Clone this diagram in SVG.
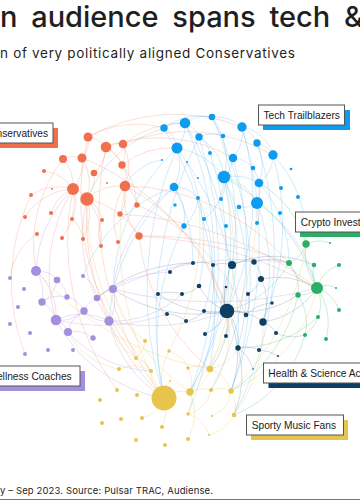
<svg xmlns="http://www.w3.org/2000/svg" width="360" height="500" viewBox="0 0 360 500">
<style>
.t{font-family:Inter,"Liberation Sans",sans-serif;fill:#1f1f1f}
.lb{font-family:"Liberation Sans",Arial,sans-serif;font-size:10.2px;fill:#1a1a1a}
.box{fill:#fff;stroke:#555;stroke-width:1}
#edges path{fill:none;stroke-width:0.7}
.eo{stroke:#F39A80;stroke-opacity:.45}
.eb{stroke:#5DB8F2;stroke-opacity:.4}
.en{stroke:#4D6E89;stroke-opacity:.35}
.eg{stroke:#5CC28A;stroke-opacity:.45}
.ep{stroke:#B9A8E8;stroke-opacity:.5}
.ey{stroke:#EBD27A;stroke-opacity:.5}
.o{fill:#F0704D}.b{fill:#0E9CF0}.n{fill:#0D3F63}.g{fill:#2BAE66}.p{fill:#A38EDF}.y{fill:#E7C54C}
</style>
<rect width="360" height="500" fill="#fff"/>
<text class="t" x="0" y="27" font-size="29" font-weight="500" word-spacing="6">n audience spans tech &amp;</text>
<text class="t" x="0" y="57.5" font-size="13.5" textLength="295" lengthAdjust="spacing" fill="#2a2a2a">n of very politically aligned Conservatives</text>
<g id="edges">
<g class="eo">
<path d="M88 137A25 25 0 0 1 106 147"/><path d="M88 137A25 25 0 0 1 82 158"/><path d="M106 147A20 20 0 0 1 123 144"/><path d="M106 147A30 30 0 0 1 122 165"/><path d="M106 147A35 35 0 0 1 94 173"/><path d="M82 158A40 40 0 0 1 73 189"/><path d="M63 159A40 40 0 0 1 73 189"/><path d="M82 158A50 50 0 0 1 87 199"/><path d="M73 189A20 20 0 0 1 87 199"/><path d="M87 199A50 50 0 0 1 125 186"/><path d="M122 165A25 25 0 0 1 125 186"/><path d="M123 144A50 50 0 0 1 125 186"/><path d="M94 173A35 35 0 0 1 87 199"/><path d="M73 189A35 35 0 0 1 72 219"/><path d="M87 199A30 30 0 0 1 102 220"/><path d="M87 199A50 50 0 0 1 83 239"/><path d="M125 186A35 35 0 0 1 120 214"/><path d="M125 186A30 30 0 0 1 137 205"/><path d="M31 195A50 50 0 0 1 73 189"/><path d="M44 171A40 40 0 0 1 73 189"/><path d="M87 199A80 80 0 0 1 139 236"/><path d="M106 147A80 80 0 0 1 137 205"/><path d="M73 189A60 60 0 0 1 62 238"/><path d="M87 199A60 60 0 0 1 101 246"/><path d="M63 159A25 25 0 0 1 82 158"/><path d="M123 144A25 25 0 0 1 122 165"/>
<path d="M88 137A180 180 0 0 1 242 127"/><path d="M106 147A150 150 0 0 1 233 158"/><path d="M123 144A170 170 0 0 1 273 155"/><path d="M125 186A220 220 0 0 1 289 263"/><path d="M139 236A400 400 0 0 1 289 263"/><path d="M139 236A400 400 0 0 1 317 288"/><path d="M120 214A350 350 0 0 1 317 288"/>
<path d="M73 189A160 160 0 0 0 56 320"/><path d="M87 199A150 150 0 0 0 109 321"/><path d="M63 159A140 140 0 0 0 36 271"/><path d="M106 147A300 300 0 0 0 164 398"/><path d="M87 199A250 250 0 0 0 164 398"/><path d="M73 189A250 250 0 0 0 117 390"/><path d="M82 158A250 250 0 0 1 227 311"/><path d="M125 186A200 200 0 0 1 227 311"/><path d="M139 236A200 200 0 0 0 210 369"/><path d="M137 205A200 200 0 0 1 246 315"/><path d="M88 137A260 260 0 0 0 136 358"/><path d="M31 195A200 200 0 0 0 25 354"/><path d="M37 234A60 60 0 0 0 10 278"/><path d="M122 165A80 80 0 0 1 177 148"/><path d="M88 137A100 100 0 0 1 164 128"/><path d="M123 144A100 100 0 0 1 185 123"/>
<path d="M51 213A40 40 0 0 1 73 189"/><path d="M72 219A30 30 0 0 1 83 239"/><path d="M101 246A30 30 0 0 1 102 220"/><path d="M118 242A60 60 0 0 1 125 186"/><path d="M139 236A60 60 0 0 1 125 186"/><path d="M25 217A60 60 0 0 1 73 189"/>
</g>
<g class="eb">
<path d="M164 128A30 30 0 0 1 185 123"/><path d="M185 123A35 35 0 0 1 212 117"/><path d="M185 123A25 25 0 0 1 199 137"/><path d="M185 123A35 35 0 0 1 177 148"/><path d="M212 117A40 40 0 0 1 242 127"/><path d="M242 127A30 30 0 0 1 257 143"/><path d="M242 127A40 40 0 0 1 233 158"/><path d="M199 137A30 30 0 0 1 223 136"/><path d="M199 137A25 25 0 0 1 210 153"/><path d="M177 148A70 70 0 0 1 224 177"/><path d="M177 148A50 50 0 0 1 174 187"/><path d="M233 158A30 30 0 0 1 224 177"/><path d="M273 155A35 35 0 0 1 259 183"/><path d="M257 143A25 25 0 0 1 273 155"/><path d="M224 177A50 50 0 0 1 259 183"/><path d="M224 177A50 50 0 0 1 257 203"/><path d="M259 183A30 30 0 0 1 257 203"/><path d="M257 203A25 25 0 0 1 239 207"/><path d="M257 203A25 25 0 0 1 257 223"/><path d="M174 187A30 30 0 0 1 198 198"/><path d="M224 177A30 30 0 0 1 221 199"/><path d="M253 168A40 40 0 0 1 257 203"/><path d="M233 158A30 30 0 0 1 253 168"/><path d="M224 177A50 50 0 0 1 204 219"/><path d="M198 198A40 40 0 0 1 184 226"/><path d="M212 117A70 70 0 0 1 224 177"/><path d="M164 128A30 30 0 0 1 177 148"/><path d="M242 127A40 40 0 0 1 273 155"/><path d="M257 143A50 50 0 0 1 259 183"/><path d="M199 137A50 50 0 0 1 224 177"/><path d="M174 187A50 50 0 0 1 184 226"/><path d="M164 128A60 60 0 0 1 212 117"/>
<path d="M185 123A350 350 0 0 1 190 392"/><path d="M177 148A350 350 0 0 0 164 398"/><path d="M242 127A250 250 0 0 1 227 311"/><path d="M224 177A200 200 0 0 1 227 311"/><path d="M257 203A200 200 0 0 1 263 322"/><path d="M212 117A350 350 0 0 1 231 391"/><path d="M164 128A350 350 0 0 1 210 369"/><path d="M273 155A120 120 0 0 1 306 244"/><path d="M259 183A120 120 0 0 1 289 263"/><path d="M257 203A140 140 0 0 1 317 288"/><path d="M177 148A200 200 0 0 0 113 289"/><path d="M174 187A200 200 0 0 0 109 321"/><path d="M164 128A120 120 0 0 0 87 199"/><path d="M224 177A250 250 0 0 1 238 348"/><path d="M257 143A350 350 0 0 1 234 415"/><path d="M233 158A300 300 0 0 1 211 390"/><path d="M199 137A400 400 0 0 1 188 414"/><path d="M210 153A300 300 0 0 1 190 392"/><path d="M187 162A200 200 0 0 1 199 286"/><path d="M198 198A150 150 0 0 1 204 311"/><path d="M184 226A250 250 0 0 0 164 398"/><path d="M162 160A50 50 0 0 0 125 186"/><path d="M174 187A150 150 0 0 0 83 276"/><path d="M185 123A300 300 0 0 1 227 311"/><path d="M242 127A400 400 0 0 1 231 391"/><path d="M224 177A300 300 0 0 1 190 392"/><path d="M177 148A300 300 0 0 1 238 348"/><path d="M273 155A250 250 0 0 1 263 322"/><path d="M199 137A400 400 0 0 0 164 398"/><path d="M212 117A250 250 0 0 1 232 265"/><path d="M174 187A150 150 0 0 1 193 263"/>
</g>
<g class="en">
<path d="M227 311A60 60 0 0 1 232 265"/><path d="M227 311A50 50 0 0 1 199 286"/><path d="M227 311A30 30 0 0 1 246 315"/><path d="M227 311A50 50 0 0 1 263 322"/><path d="M227 311A40 40 0 0 1 205 334"/><path d="M227 311A40 40 0 0 1 226 336"/><path d="M227 311A50 50 0 0 1 238 348"/><path d="M232 265A30 30 0 0 1 254 262"/><path d="M254 262A25 25 0 0 1 261 279"/><path d="M261 279A50 50 0 0 1 263 322"/><path d="M193 263A30 30 0 0 1 213 265"/><path d="M213 265A30 30 0 0 1 232 265"/><path d="M199 286A30 30 0 0 1 182 294"/><path d="M204 311A30 30 0 0 1 186 321"/><path d="M263 322A25 25 0 0 1 276 333"/><path d="M238 348A30 30 0 0 1 259 350"/><path d="M170 272A30 30 0 0 1 193 263"/><path d="M158 294A40 40 0 0 1 182 294"/><path d="M167 314A30 30 0 0 1 186 321"/><path d="M246 315A40 40 0 0 1 272 303"/><path d="M227 311A30 30 0 0 1 226 287"/><path d="M227 311A30 30 0 0 1 204 311"/><path d="M261 279A30 30 0 0 1 248 294"/><path d="M227 311A60 60 0 0 1 213 265"/><path d="M248 294A30 30 0 0 1 246 315"/><path d="M263 322A80 80 0 0 0 317 288"/><path d="M261 279A80 80 0 0 1 317 288"/><path d="M254 262A50 50 0 0 1 289 263"/><path d="M227 311A150 150 0 0 1 113 289"/><path d="M227 311A80 80 0 0 1 210 369"/><path d="M227 311A100 100 0 0 1 231 391"/><path d="M227 311A100 100 0 0 0 298 295"/><path d="M276 333A40 40 0 0 0 305 335"/><path d="M232 265A100 100 0 0 1 314 265"/><path d="M193 263A150 150 0 0 0 97 298"/><path d="M227 311A100 100 0 0 1 158 294"/><path d="M238 348A100 100 0 0 1 234 415"/><path d="M259 350A40 40 0 0 1 278 356"/><path d="M238 348A40 40 0 0 1 253 369"/>
</g>
<g class="eg">
<path d="M317 288A60 60 0 0 1 306 244"/><path d="M317 288A40 40 0 0 1 289 263"/><path d="M317 288A30 30 0 0 1 314 265"/><path d="M317 288A35 35 0 0 1 339 265"/><path d="M317 288A25 25 0 0 1 298 295"/><path d="M317 288A35 35 0 0 1 318 317"/><path d="M317 288A35 35 0 0 1 339 310"/><path d="M306 244A30 30 0 0 1 289 263"/><path d="M289 263A40 40 0 0 1 298 295"/><path d="M298 295A50 50 0 0 1 305 335"/><path d="M317 288A60 60 0 0 1 326 339"/><path d="M317 288A20 20 0 0 1 336 288"/><path d="M306 244A30 30 0 0 1 330 243"/><path d="M289 263A100 100 0 0 1 227 311"/><path d="M298 295A150 150 0 0 1 231 391"/><path d="M318 317A120 120 0 0 1 238 348"/><path d="M306 244A100 100 0 0 0 259 183"/><path d="M317 288A200 200 0 0 0 224 177"/><path d="M305 335A120 120 0 0 1 234 415"/><path d="M318 317A40 40 0 0 1 305 335"/>
</g>
<g class="ep">
<path d="M36 271A25 25 0 0 1 57 280"/><path d="M57 280A30 30 0 0 1 42 302"/><path d="M42 302A30 30 0 0 1 56 320"/><path d="M56 320A20 20 0 0 1 68 332"/><path d="M57 280A25 25 0 0 1 67 297"/><path d="M67 297A25 25 0 0 1 84 311"/><path d="M84 311A35 35 0 0 1 56 320"/><path d="M84 311A25 25 0 0 1 97 298"/><path d="M97 298A25 25 0 0 1 113 289"/><path d="M113 289A40 40 0 0 1 109 321"/><path d="M109 321A30 30 0 0 1 84 311"/><path d="M68 332A30 30 0 0 1 93 338"/><path d="M36 271A40 40 0 0 1 42 302"/><path d="M83 276A30 30 0 0 1 97 298"/><path d="M42 302A30 30 0 0 1 67 297"/><path d="M56 320A60 60 0 0 1 109 321"/><path d="M36 271A60 60 0 0 1 56 320"/><path d="M68 332A30 30 0 0 1 84 311"/>
<path d="M109 321A100 100 0 0 0 182 294"/><path d="M109 321A120 120 0 0 0 164 398"/><path d="M56 320A150 150 0 0 0 164 398"/><path d="M36 271A120 120 0 0 1 73 189"/><path d="M113 289A150 150 0 0 1 174 187"/><path d="M68 332A120 120 0 0 0 151 371"/><path d="M109 321A200 200 0 0 0 227 311"/><path d="M97 298A120 120 0 0 1 170 272"/><path d="M56 320A200 200 0 0 0 167 314"/><path d="M113 289A400 400 0 0 0 317 288"/><path d="M113 289A300 300 0 0 1 289 263"/>
</g>
<g class="ey">
<path d="M164 398A30 30 0 0 1 190 392"/><path d="M164 398A35 35 0 0 1 151 371"/><path d="M164 398A60 60 0 0 1 169 351"/><path d="M190 392A30 30 0 0 1 211 390"/><path d="M211 390A25 25 0 0 1 231 391"/><path d="M190 392A30 30 0 0 1 188 414"/><path d="M231 391A30 30 0 0 1 234 415"/><path d="M210 369A35 35 0 0 1 231 391"/><path d="M210 369A35 35 0 0 1 190 392"/><path d="M188 368A30 30 0 0 1 190 392"/><path d="M145 341A25 25 0 0 1 136 358"/><path d="M136 358A25 25 0 0 1 151 371"/><path d="M119 369A35 35 0 0 1 151 371"/><path d="M164 398A40 40 0 0 1 162 427"/><path d="M234 415A40 40 0 0 1 209 435"/><path d="M188 414A30 30 0 0 1 209 435"/><path d="M190 392A50 50 0 0 1 188 439"/><path d="M231 391A30 30 0 0 1 212 416"/><path d="M164 398A20 20 0 0 1 170 381"/><path d="M211 390A30 30 0 0 1 188 414"/><path d="M164 398A30 30 0 0 1 142 418"/><path d="M188 368A30 30 0 0 1 210 369"/><path d="M169 351A30 30 0 0 1 188 368"/>
<path d="M210 369A40 40 0 0 0 238 348"/><path d="M234 415A150 150 0 0 0 263 322"/><path d="M145 341A80 80 0 0 1 113 289"/><path d="M136 358A60 60 0 0 1 109 321"/><path d="M151 371A250 250 0 0 1 87 199"/><path d="M164 398A300 300 0 0 1 125 186"/><path d="M210 369A300 300 0 0 0 224 177"/><path d="M190 392A300 300 0 0 0 257 203"/><path d="M119 369A70 70 0 0 1 68 332"/><path d="M169 351A250 250 0 0 0 198 198"/><path d="M231 391A150 150 0 0 0 317 288"/><path d="M211 390A100 100 0 0 0 227 311"/><path d="M231 391A250 250 0 0 0 306 244"/><path d="M210 369A300 300 0 0 1 36 271"/><path d="M190 392A200 200 0 0 1 113 289"/>
</g>
</g>
<g id="conservatives-nodes">
<g id="o1"><circle class="o" cx="88" cy="137" r="4.5"/></g>
<g id="o2"><circle class="o" cx="106" cy="147" r="5.3"/></g>
<g id="o3"><circle class="o" cx="123" cy="144" r="4.3"/></g>
<g id="o4"><circle class="o" cx="63" cy="159" r="4"/></g>
<g id="o5"><circle class="o" cx="82" cy="158" r="4.5"/></g>
<g id="o6"><circle class="o" cx="122" cy="165" r="3.7"/></g>
<g id="o7"><circle class="o" cx="44" cy="171" r="2"/></g>
<g id="o8"><circle class="o" cx="94" cy="173" r="3.3"/></g>
<g id="o9"><circle class="o" cx="73" cy="189" r="6"/></g>
<g id="o10"><circle class="o" cx="87" cy="199" r="6.7"/></g>
<g id="o11"><circle class="o" cx="125" cy="186" r="5.3"/></g>
<g id="o12"><circle class="o" cx="52" cy="189" r="1"/></g>
<g id="o13"><circle class="o" cx="107" cy="183" r="1"/></g>
<g id="o14"><circle class="o" cx="31" cy="195" r="2"/></g>
<g id="o15"><circle class="o" cx="51" cy="213" r="2"/></g>
<g id="o16"><circle class="o" cx="25" cy="217" r="2"/></g>
<g id="o17"><circle class="o" cx="72" cy="219" r="2"/></g>
<g id="o18"><circle class="o" cx="102" cy="220" r="2"/></g>
<g id="o19"><circle class="o" cx="120" cy="214" r="2.7"/></g>
<g id="o20"><circle class="o" cx="137" cy="205" r="2.7"/></g>
<g id="o21"><circle class="o" cx="37" cy="234" r="2"/></g>
<g id="o22"><circle class="o" cx="62" cy="238" r="2"/></g>
<g id="o23"><circle class="o" cx="83" cy="239" r="2"/></g>
<g id="o24"><circle class="o" cx="101" cy="246" r="2"/></g>
<g id="o25"><circle class="o" cx="118" cy="242" r="2"/></g>
<g id="o26"><circle class="o" cx="139" cy="236" r="3.7"/></g>
</g>
<g id="tech-nodes">
<g id="b1"><circle class="b" cx="164" cy="128" r="3.7"/></g>
<g id="b2"><circle class="b" cx="185" cy="123" r="5.3"/></g>
<g id="b3"><circle class="b" cx="212" cy="117" r="3.3"/></g>
<g id="b4"><circle class="b" cx="242" cy="127" r="4.7"/></g>
<g id="b5"><circle class="b" cx="199" cy="137" r="3.7"/></g>
<g id="b6"><circle class="b" cx="223" cy="136" r="2.3"/></g>
<g id="b7"><circle class="b" cx="177" cy="148" r="5.5"/></g>
<g id="b8"><circle class="b" cx="257" cy="143" r="3.7"/></g>
<g id="b9"><circle class="b" cx="210" cy="153" r="2"/></g>
<g id="b10"><circle class="b" cx="233" cy="158" r="4.3"/></g>
<g id="b11"><circle class="b" cx="273" cy="155" r="4.7"/></g>
<g id="b12"><circle class="b" cx="162" cy="160" r="1"/></g>
<g id="b13"><circle class="b" cx="187" cy="162" r="1"/></g>
<g id="b14"><circle class="b" cx="253" cy="168" r="2.3"/></g>
<g id="b15"><circle class="b" cx="291" cy="169" r="1.3"/></g>
<g id="b16"><circle class="b" cx="224" cy="177" r="6.3"/></g>
<g id="b17"><circle class="b" cx="198" cy="178" r="1"/></g>
<g id="b18"><circle class="b" cx="259" cy="183" r="4.3"/></g>
<g id="b19"><circle class="b" cx="281" cy="188" r="2"/></g>
<g id="b20"><circle class="b" cx="298" cy="197" r="2"/></g>
<g id="b21"><circle class="b" cx="174" cy="187" r="4.3"/></g>
<g id="b22"><circle class="b" cx="198" cy="198" r="2"/></g>
<g id="b23"><circle class="b" cx="221" cy="199" r="2"/></g>
<g id="b24"><circle class="b" cx="257" cy="203" r="6"/></g>
<g id="b25"><circle class="b" cx="239" cy="207" r="2.3"/></g>
<g id="b26"><circle class="b" cx="280" cy="213" r="2"/></g>
<g id="b27"><circle class="b" cx="175" cy="205" r="1.7"/></g>
<g id="b28"><circle class="b" cx="204" cy="219" r="2"/></g>
<g id="b29"><circle class="b" cx="226" cy="226" r="2"/></g>
<g id="b30"><circle class="b" cx="184" cy="226" r="2.7"/></g>
<g id="b31"><circle class="b" cx="257" cy="223" r="2"/></g>
</g>
<g id="health-nodes">
<g id="n1"><circle class="n" cx="193" cy="263" r="2"/></g>
<g id="n2"><circle class="n" cx="213" cy="265" r="2"/></g>
<g id="n3"><circle class="n" cx="232" cy="265" r="4"/></g>
<g id="n4"><circle class="n" cx="254" cy="262" r="2.7"/></g>
<g id="n5"><circle class="n" cx="261" cy="279" r="3"/></g>
<g id="n6"><circle class="n" cx="199" cy="286" r="2.3"/></g>
<g id="n7"><circle class="n" cx="226" cy="287" r="1.3"/></g>
<g id="n8"><circle class="n" cx="248" cy="294" r="2"/></g>
<g id="n9"><circle class="n" cx="272" cy="303" r="1.7"/></g>
<g id="n10"><circle class="n" cx="182" cy="294" r="2"/></g>
<g id="n11"><circle class="n" cx="227" cy="311" r="7.3"/></g>
<g id="n12"><circle class="n" cx="204" cy="311" r="2"/></g>
<g id="n13"><circle class="n" cx="246" cy="315" r="2.3"/></g>
<g id="n14"><circle class="n" cx="263" cy="322" r="3.7"/></g>
<g id="n15"><circle class="n" cx="186" cy="321" r="2"/></g>
<g id="n16"><circle class="n" cx="276" cy="333" r="2"/></g>
<g id="n17"><circle class="n" cx="205" cy="334" r="2"/></g>
<g id="n18"><circle class="n" cx="226" cy="336" r="2"/></g>
<g id="n19"><circle class="n" cx="238" cy="348" r="2.7"/></g>
<g id="n20"><circle class="n" cx="259" cy="350" r="2"/></g>
<g id="n21"><circle class="n" cx="278" cy="356" r="1"/></g>
<g id="n22"><circle class="n" cx="253" cy="369" r="0.8"/></g>
<g id="n23"><circle class="n" cx="170" cy="272" r="2"/></g>
<g id="n24"><circle class="n" cx="158" cy="294" r="2"/></g>
<g id="n25"><circle class="n" cx="167" cy="314" r="2"/></g>
</g>
<g id="crypto-nodes">
<g id="g1"><circle class="g" cx="306" cy="244" r="3.7"/></g>
<g id="g2"><circle class="g" cx="330" cy="243" r="1"/></g>
<g id="g3"><circle class="g" cx="289" cy="263" r="3"/></g>
<g id="g4"><circle class="g" cx="314" cy="265" r="2.3"/></g>
<g id="g5"><circle class="g" cx="339" cy="265" r="2"/></g>
<g id="g6"><circle class="g" cx="317" cy="288" r="6"/></g>
<g id="g7"><circle class="g" cx="336" cy="288" r="1"/></g>
<g id="g8"><circle class="g" cx="298" cy="295" r="2.7"/></g>
<g id="g9"><circle class="g" cx="339" cy="310" r="2"/></g>
<g id="g10"><circle class="g" cx="318" cy="317" r="2"/></g>
<g id="g11"><circle class="g" cx="305" cy="335" r="2"/></g>
<g id="g12"><circle class="g" cx="326" cy="339" r="2"/></g>
</g>
<g id="wellness-nodes">
<g id="p1"><circle class="p" cx="36" cy="271" r="5"/></g>
<g id="p2"><circle class="p" cx="10" cy="278" r="2"/></g>
<g id="p3"><circle class="p" cx="83" cy="276" r="2"/></g>
<g id="p4"><circle class="p" cx="57" cy="280" r="3.3"/></g>
<g id="p5"><circle class="p" cx="24" cy="289" r="2"/></g>
<g id="p6"><circle class="p" cx="113" cy="289" r="4"/></g>
<g id="p7"><circle class="p" cx="67" cy="297" r="2.7"/></g>
<g id="p8"><circle class="p" cx="97" cy="298" r="3.3"/></g>
<g id="p9"><circle class="p" cx="42" cy="302" r="3.7"/></g>
<g id="p10"><circle class="p" cx="18" cy="307" r="2"/></g>
<g id="p11"><circle class="p" cx="84" cy="311" r="3.7"/></g>
<g id="p12"><circle class="p" cx="56" cy="320" r="5.3"/></g>
<g id="p13"><circle class="p" cx="109" cy="321" r="4.7"/></g>
<g id="p14"><circle class="p" cx="10" cy="324" r="2"/></g>
<g id="p15"><circle class="p" cx="68" cy="332" r="4"/></g>
<g id="p16"><circle class="p" cx="30" cy="333" r="2"/></g>
<g id="p17"><circle class="p" cx="93" cy="338" r="2.7"/></g>
<g id="p18"><circle class="p" cx="48" cy="350" r="2"/></g>
<g id="p19"><circle class="p" cx="73" cy="350" r="2"/></g>
<g id="p20"><circle class="p" cx="25" cy="354" r="2"/></g>
</g>
<g id="sporty-nodes">
<g id="y1"><circle class="y" cx="145" cy="341" r="2"/></g>
<g id="y2"><circle class="y" cx="169" cy="351" r="1.7"/></g>
<g id="y3"><circle class="y" cx="136" cy="358" r="2"/></g>
<g id="y4"><circle class="y" cx="119" cy="369" r="2"/></g>
<g id="y5"><circle class="y" cx="151" cy="371" r="2"/></g>
<g id="y6"><circle class="y" cx="188" cy="368" r="1.7"/></g>
<g id="y7"><circle class="y" cx="210" cy="369" r="3.3"/></g>
<g id="y8"><circle class="y" cx="117" cy="390" r="2"/></g>
<g id="y9"><circle class="y" cx="137" cy="395" r="2"/></g>
<g id="y10"><circle class="y" cx="164" cy="398" r="12.5"/></g>
<g id="y11"><circle class="y" cx="170" cy="381" r="1"/></g>
<g id="y12"><circle class="y" cx="190" cy="392" r="3.7"/></g>
<g id="y13"><circle class="y" cx="211" cy="390" r="2"/></g>
<g id="y14"><circle class="y" cx="231" cy="391" r="2.7"/></g>
<g id="y15"><circle class="y" cx="100" cy="400" r="2"/></g>
<g id="y16"><circle class="y" cx="188" cy="414" r="1.7"/></g>
<g id="y17"><circle class="y" cx="212" cy="416" r="1"/></g>
<g id="y18"><circle class="y" cx="234" cy="415" r="2.3"/></g>
<g id="y19"><circle class="y" cx="102" cy="423" r="2"/></g>
<g id="y20"><circle class="y" cx="121" cy="419" r="2"/></g>
<g id="y21"><circle class="y" cx="142" cy="418" r="2"/></g>
<g id="y22"><circle class="y" cx="162" cy="427" r="2"/></g>
<g id="y23"><circle class="y" cx="136" cy="440" r="2"/></g>
<g id="y24"><circle class="y" cx="165" cy="445" r="2"/></g>
<g id="y25"><circle class="y" cx="188" cy="439" r="2"/></g>
<g id="y26"><circle class="y" cx="209" cy="435" r="1"/></g>
</g>
<g id="label-conservatives"><rect x="-10" y="128" width="68" height="20" fill="#F0704D"/><rect class="box" x="-15" y="123" width="68" height="20"/><text class="lb" x="48" y="136.6" text-anchor="end">nservatives</text></g>
<g id="label-tech"><rect x="263" y="110" width="87" height="20" fill="#0E9CF0"/><rect class="box" x="258.5" y="105" width="86" height="20"/><text class="lb" x="263.5" y="118.6">Tech Trailblazers</text></g>
<g id="label-crypto"><rect x="300" y="217" width="70" height="20" fill="#2BAE66"/><rect class="box" x="295.5" y="212" width="80" height="20"/><text class="lb" x="300.7" y="225.6">Crypto Invest</text></g>
<g id="label-wellness"><rect x="-10" y="371" width="95" height="20" fill="#A38EDF"/><rect class="box" x="-15" y="366" width="95" height="20"/><text class="lb" x="71.7" y="379.6" text-anchor="end">ellness Coaches</text></g>
<g id="label-health"><rect x="268.5" y="368" width="100" height="20" fill="#0D3F63"/><rect class="box" x="263.5" y="363" width="110" height="20"/><text class="lb" x="268.3" y="376.6">Health &amp; Science Ac</text></g>
<g id="label-sporty"><rect x="251" y="420" width="97" height="20" fill="#E7C54C"/><rect class="box" x="246.5" y="415" width="97" height="20"/><text class="lb" x="251.7" y="428.6">Sporty Music Fans</text></g>
<text class="t" x="0" y="493.7" font-size="9.5" textLength="213" lengthAdjust="spacing" fill="#2a2a2a">y – Sep 2023. Source: Pulsar TRAC, Audiense.</text>
<line x1="0" y1="499.5" x2="360" y2="499.5" stroke="#777" stroke-width="1"/>
</svg>
